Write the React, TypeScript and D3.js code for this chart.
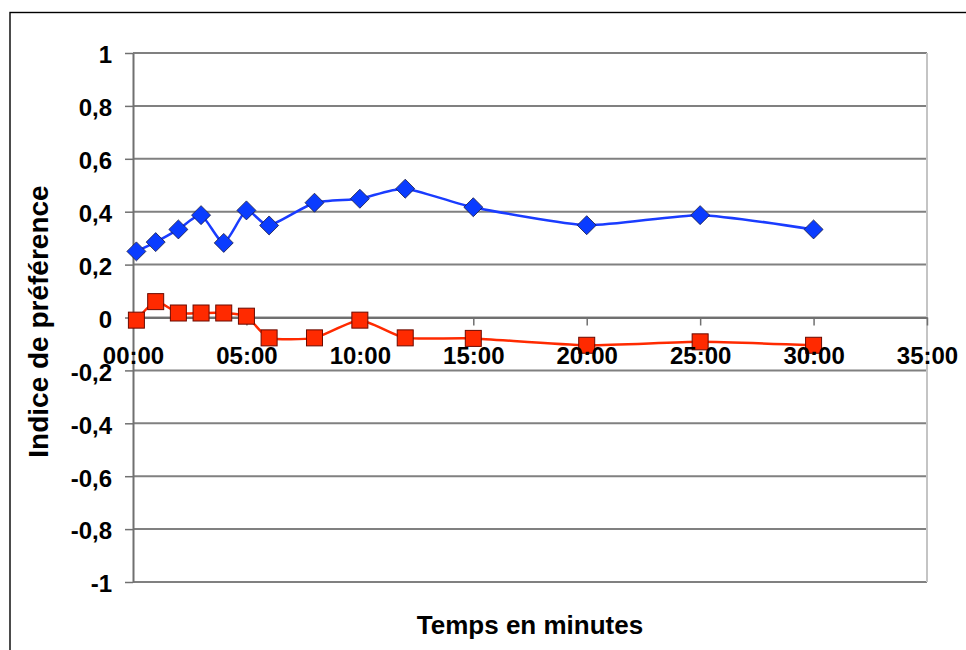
import { useEffect, useRef } from 'react';
import * as d3 from 'd3';

// minutes since start
const times = [0.15, 1, 2, 3, 4, 5, 6, 8, 10, 12, 15, 20, 25, 30];
const blueValues = [0.25, 0.285, 0.333, 0.387, 0.282, 0.405, 0.348, 0.434, 0.449, 0.487, 0.417, 0.349, 0.387, 0.333];
const redValues = [-0.01, 0.06, 0.017, 0.017, 0.017, 0.005, -0.077, -0.077, -0.01, -0.077, -0.079, -0.105, -0.092, -0.105];

const xTicks = [0, 5, 10, 15, 20, 25, 30, 35];
const xTickLabels = ['00:00', '05:00', '10:00', '15:00', '20:00', '25:00', '30:00', '35:00'];
const yTicks = [-1, -0.8, -0.6, -0.4, -0.2, 0, 0.2, 0.4, 0.6, 0.8, 1];

const FONT = "'Liberation Sans', Arial, sans-serif";

export default function App() {
  const svgRef = useRef<SVGSVGElement>(null);

  useEffect(() => {
    if (!svgRef.current) return;
    const svg = d3.select(svgRef.current);
    svg.selectAll('*').remove();

    const left = 133, right = 927, top = 53, bottom = 582;

    const x = d3.scaleLinear().domain([0, 35]).range([left, right]);
    const y = d3.scaleLinear().domain([-1, 1]).range([bottom, top]);

    const fr = d3.formatLocale({ decimal: ',', thousands: ' ', grouping: [3], currency: ['', ''], minus: '-' });
    const yFmt = fr.format('.1~f');

    // outer frame (runs past the window on right and bottom)
    svg.append('rect')
      .attr('x', 10)
      .attr('y', 12.5)
      .attr('width', 1000)
      .attr('height', 700)
      .attr('fill', 'none')
      .attr('stroke', '#000')
      .attr('stroke-width', 1.4);

    // gridlines
    svg.append('g')
      .selectAll('line')
      .data(yTicks)
      .join('line')
      .attr('x1', left)
      .attr('x2', right)
      .attr('y1', d => y(d))
      .attr('y2', d => y(d))
      .attr('stroke', '#808080')
      .attr('stroke-width', 2);

    // right border
    svg.append('line')
      .attr('x1', right)
      .attr('x2', right)
      .attr('y1', top)
      .attr('y2', bottom)
      .attr('stroke', '#c4c4c4')
      .attr('stroke-width', 2);

    // Y axis
    const yAxis = svg.append('g')
      .attr('transform', `translate(${left},0)`)
      .call(d3.axisLeft(y).tickValues(yTicks).tickSize(8).tickSizeOuter(0).tickFormat(d => yFmt(d as number)));
    yAxis.select('.domain').attr('stroke', '#707070').attr('stroke-width', 2);
    yAxis.selectAll('.tick line').attr('stroke', '#707070').attr('stroke-width', 1.5);
    yAxis.selectAll('text')
      .attr('x', -21)
      .attr('dy', '0.41em')
      .style('font-family', FONT)
      .style('font-weight', 'bold')
      .style('font-size', '24px')
      .style('fill', '#000');

    // X axis line + ticks (crosses at 0)
    const xAxis = svg.append('g')
      .attr('transform', `translate(0,${y(0)})`)
      .call(d3.axisBottom(x).tickValues(xTicks).tickSize(8).tickSizeOuter(0).tickFormat(() => ''));
    xAxis.select('.domain').attr('stroke', '#707070').attr('stroke-width', 2);
    xAxis.selectAll('.tick line').attr('stroke', '#707070').attr('stroke-width', 1.5);

    const line = d3.line<number>()
      .x((_, i) => x(times[i]))
      .y(d => y(d))
      .curve(d3.curveCardinal.tension(0.4));

    // blue series
    svg.append('path')
      .datum(blueValues)
      .attr('fill', 'none')
      .attr('stroke', '#1a3cff')
      .attr('stroke-width', 2.5)
      .attr('d', line);

    // red series
    svg.append('path')
      .datum(redValues)
      .attr('fill', 'none')
      .attr('stroke', '#ff2a00')
      .attr('stroke-width', 2.5)
      .attr('d', line);

    const diamond = d3.symbol().type(d3.symbolDiamond2).size(230);
    svg.append('g')
      .selectAll('path')
      .data(blueValues)
      .join('path')
      .attr('transform', (d, i) => `translate(${x(times[i])},${y(d)})`)
      .attr('d', diamond)
      .attr('fill', '#0a3cff')
      .attr('stroke', '#1a1a40')
      .attr('stroke-width', 0.8);

    const sq = 16;
    svg.append('g')
      .selectAll('rect')
      .data(redValues)
      .join('rect')
      .attr('x', (_, i) => x(times[i]) - sq / 2)
      .attr('y', d => y(d) - sq / 2)
      .attr('width', sq)
      .attr('height', sq)
      .attr('fill', '#ff2a00')
      .attr('stroke', '#6a0a00')
      .attr('stroke-width', 1);

    // X tick labels drawn above markers
    const xLabels = svg.append('g')
      .attr('transform', `translate(0,${y(0)})`)
      .call(d3.axisBottom(x).tickValues(xTicks).tickSize(0).tickFormat((_, i) => xTickLabels[i]));
    xLabels.select('.domain').remove();
    xLabels.selectAll('text')
      .attr('y', 29)
      .style('font-family', FONT)
      .style('font-weight', 'bold')
      .style('font-size', '24px')
      .style('fill', '#000');

    // axis titles
    svg.append('text')
      .attr('x', (left + right) / 2)
      .attr('y', 634)
      .attr('text-anchor', 'middle')
      .style('font-family', FONT)
      .style('font-weight', 'bold')
      .style('font-size', '26px')
      .text('Temps en minutes');

    svg.append('text')
      .attr('transform', `translate(48,${(top + bottom) / 2 + 4}) rotate(-90)`)
      .attr('text-anchor', 'middle')
      .style('font-family', FONT)
      .style('font-weight', 'bold')
      .style('font-size', '28px')
      .text('Indice de préférence');
  }, []);

  return (
    <svg
      ref={svgRef}
      width={966}
      height={650}
      style={{ position: 'absolute', left: 0, top: 0, background: '#fff' }}
    />
  );
}
